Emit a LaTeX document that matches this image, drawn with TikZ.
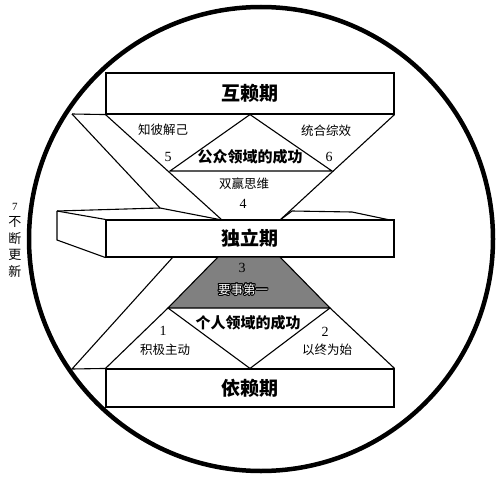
\documentclass[tikz,border=0pt]{standalone}
\usepackage{fontspec}
\usepackage{contour}
\newfontfamily\cjk{Noto Sans CJK SC}
\newfontfamily\digit{Liberation Serif}
\contourlength{0.9pt}
\tikzset{auto}

\begin{document}
\begin{tikzpicture}[x=1pt,y=-1pt,line width=1.1pt,
    box/.style={draw,fill=white,minimum width=288pt,inner sep=0pt},
    stage/.style={font=\cjk\bfseries\fontsize{19}{19}\selectfont},
    field/.style={font=\cjk\bfseries\fontsize{15}{15}\selectfont},
    habit/.style={font=\cjk\fontsize{12.5}{12.5}\selectfont},
    num/.style={font=\digit\fontsize{14}{14}\selectfont}]
        \useasboundingbox (0,0) rectangle (496,479);
        \draw[line width=4.5pt] (261,239) circle[radius=232pt];
        % the three stages
        \node (hulai) [box,stage,minimum height=41pt] at (250,93.5) {互赖期};
        \node (duli) [box,stage,minimum height=37pt] at (250,238.5) {独立期};
        \node (yilai) [box,stage,minimum height=38pt] at (250,388) {依赖期};
        \coordinate (hl) at (72,114);
        \coordinate (dtl) at (160,208);
        \coordinate (dt) at (222,220);
        \coordinate (dr) at (280,220);
        \coordinate (dlf) at (57,211);
        \coordinate (dlb) at (57,240);
        \coordinate (pa) at (170,171);
        \coordinate (pb) at (332,171);
        \coordinate (rt1) at (292,211);
        \coordinate (rt2) at (352,212);
        \coordinate (rt3) at (390,220);
        \coordinate (sa) at (218,257);
        \coordinate (sb) at (280,257);
        \coordinate (sc) at (330,308);
        \coordinate (sd) at (168,308);
        \coordinate (bl) at (173,257);
        \coordinate (yl) at (72,369);
        % upper half
        \draw (hl) -- (hulai.south west);
        \draw (hl) -- (dtl) -- (dt);
        \draw (hulai.south west) -- (dt);
        \draw (hulai.south east) -- (dr);
        \draw (pa) -- (hulai.south) -- (pb) -- cycle;
        \draw (dlf) -- (dtl);
        \draw (dlf) -- (duli.north west);
        \draw (dlf) -- (dlb) -- (duli.south west);
        \draw (dr) -- (rt1) -- (rt2) -- (rt3);
        % lower half
        \draw[fill=black!50] (sa) -- (sb) -- (sc) -- (sd) -- cycle;
        \draw (sd) -- (yilai.north west);
        \draw (sc) -- (yilai.north east);
        \draw (sd) -- (yilai.north) -- (sc);
        \draw (bl) -- (yl) -- (yilai.north west);
        % labels
        \node (zbjj) [habit] at (163,130) {知彼解己};
        \node (tthzx) [habit] at (326,131) {统合综效};
        \node (n5) [num] at (168,157) {5};
        \node (gzly) [field] at (250,157) {公众领域的成功};
        \node (n6) [num] at (329,157) {6};
        \node (sysw) [habit] at (244,184) {双赢思维};
        \node (n4) [num] at (243,204) {4};
        \node (n3) [num] at (242,268) {3};
        \node (ysdy) [habit,text=white] at (243,290) {\contour{black}{要事第一}};
        \node (grly) [field] at (248,323) {个人领域的成功};
        \node (n1) [num] at (163,331) {1};
        \node (jjzd) [habit] at (165,350) {积极主动};
        \node (n2) [num] at (325,332) {2};
        \node (yzws) [habit] at (327,350) {以终为始};
        \node (gx) [align=center,font=\cjk\fontsize{13}{16.5}\selectfont] at (15,240)
            {{\digit\fontsize{11}{11}\selectfont 7}\\不\\断\\更\\新};
      \end{tikzpicture}
\end{document}
